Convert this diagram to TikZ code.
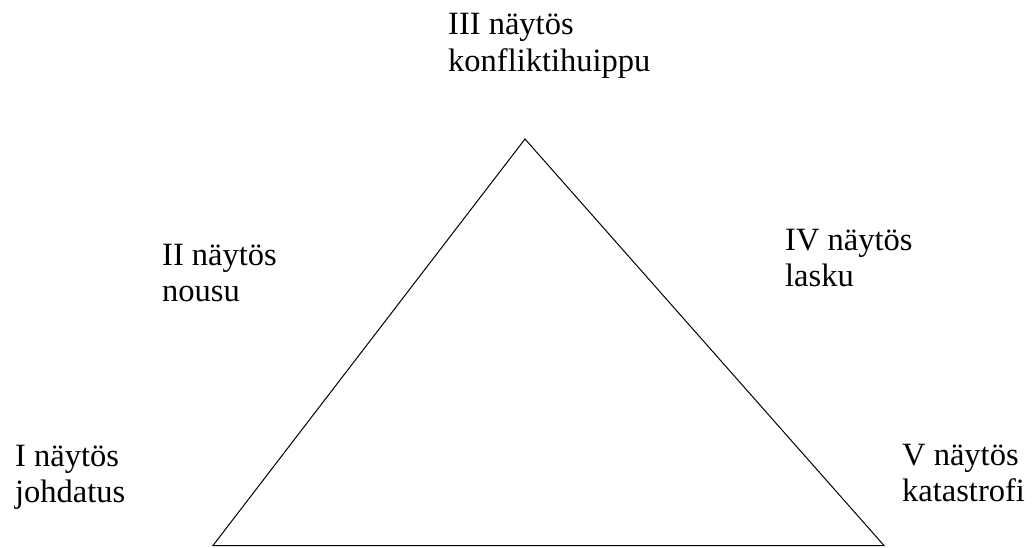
\documentclass[tikz,border=0pt]{standalone}
\usepackage{fontspec}
\setmainfont{Liberation Serif}
\usepackage{tikz}
\usetikzlibrary{positioning}

\begin{document}
\begin{tikzpicture}[
            x=1pt, y=1pt,
            act/.style={
                anchor=base west,              % viimeisen rivin perusviiva
                inner sep=0pt,
                align=left,
                font=\fontsize{32.5}{36.5}\selectfont
            },
            line/.style={
                draw,
                line width=1pt,
                line join=miter
            }
        ]
            \useasboundingbox (0,0) rectangle (1036,547);

            % --- KOLMIO ---
            \coordinate (apex) at (525,408);
            \coordinate (base left) at (213,1.5);
            \coordinate (base right) at (884,1.5);
            \path [line] (base left) -- (apex) -- (base right) -- cycle;

            % --- NÄYTÖKSET ---
            \node [act] (act1) at (15,44.5) {I näytös\\johdatus};
            \node [act] (act2) at (162,245.5) {II näytös\\nousu};
            \node [act] (act3) at (448,475.5) {III näytös\\konfliktihuippu};
            \node [act] (act4) at (785,260.5) {IV näytös\\lasku};
            \node [act] (act5) at (902,45.5) {V näytös\\katastrofi};
        \end{tikzpicture}
\end{document}
